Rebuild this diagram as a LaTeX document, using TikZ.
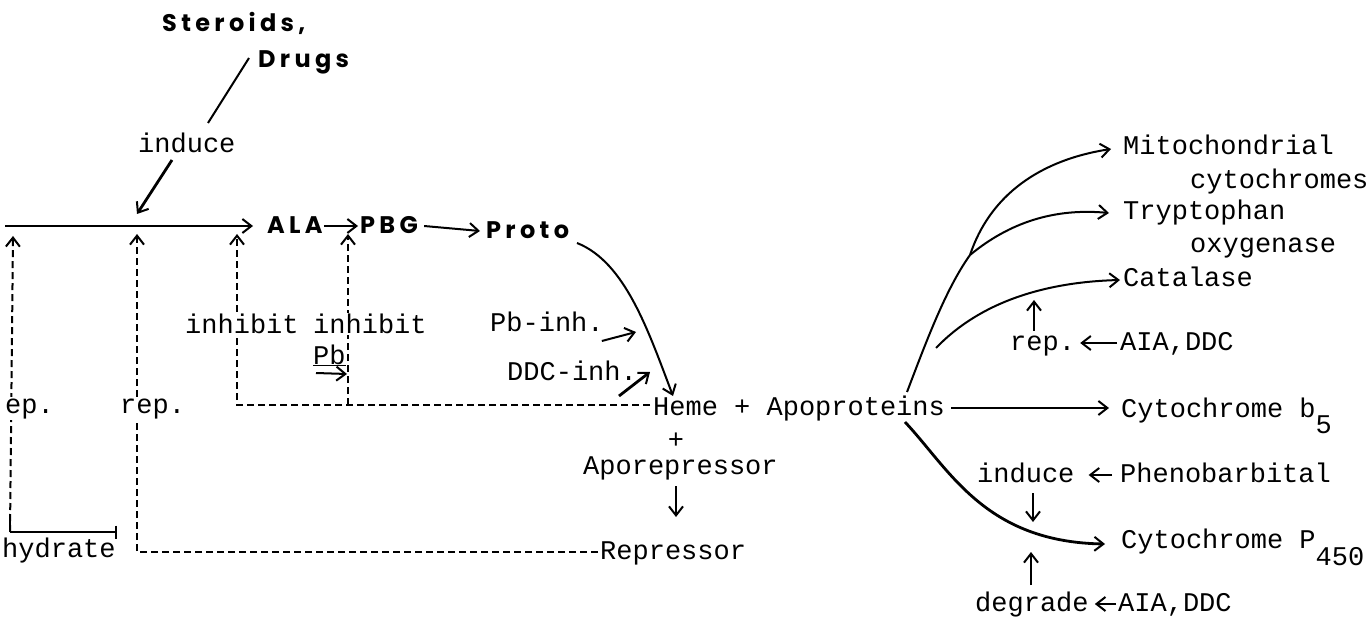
\documentclass[tikz,border=0pt]{standalone}
\usepackage{fontspec}
\usetikzlibrary{arrows.meta}
\newfontfamily\tw{Liberation Mono}
\newfontfamily\bsf[LetterSpace=18]{Poppins}
\begin{document}
\begin{tikzpicture}[x=1pt,y=-1pt,
  tt/.style={anchor=base west,inner sep=0pt,font=\tw\fontsize{27}{30}\selectfont},
  bs/.style={anchor=base west,inner sep=0pt,font=\bsf\bfseries\fontsize{24}{28}\selectfont},
  lbl/.style={tt,fill=white,inner sep=1pt},
  ln/.style={line width=2pt},
  thick ln/.style={line width=2.8pt},
  dsh/.style={line width=2pt,dash pattern=on 7pt off 4pt},
  arr/.style={-{Straight Barb[length=9pt,width=14pt,line width=2pt]}},
  tee/.style={-{Bar[width=13pt,line width=2.4pt]}}]
\useasboundingbox (0,0) rectangle (1371,620);

\coordinate (start) at (5,226);
\coordinate (ind) at (137,226);
\coordinate (tB) at (137,234);
\coordinate (tC) at (237,234);
\coordinate (tD) at (348,234);
\coordinate (cL) at (10,532);
\coordinate (cM) at (137,552);
\coordinate (cC) at (237,405);
\coordinate (cD) at (348,405);
\coordinate (hemeL) at (650,405);
\coordinate (repL) at (598,552);

% bold sans
\node[bs] (steroids) at (162,32) {Steroids,};
\node[bs] (drugs) at (258,68) {Drugs};
\node[bs] (ALA) at (267,234) {ALA};
\node[bs] (PBG) at (360,234) {PBG};
\node[bs] (Proto) at (486,239) {Proto};

% typewriter
\node[tt] (induceA) at (138,153) {induce};
\node[tt] (Heme) at (653,415) {Heme + Apoproteins};
\node[tt,anchor=center] (plus) at (676,441) {+};
\node[tt] (Apo) at (583,474) {Aporepressor};
\node[tt] (Repressor) at (600,559) {Repressor};
\node[tt] (PbInh) at (490,332) {Pb-inh.};
\node[tt] (DDCInh) at (507,380) {DDC-inh.};

\node[tt] (Mito) at (1123,155) {Mitochondrial};
\node[tt] (cyts) at (1190,189) {cytochromes};
\node[tt] (Tryp) at (1123,220) {Tryptophan};
\node[tt] (oxy) at (1190,253) {oxygenase};
\node[tt] (Cat) at (1123,287) {Catalase};
\node[tt] (repR) at (1010,350) {rep.};
\node[tt] (AIAa) at (1120,350) {AIA,DDC};
\node[tt] (Cb) at (1121,417) {Cytochrome b\raisebox{-16pt}{5}};
\node[tt] (induceB) at (977,482) {induce};
\node[tt] (Pheno) at (1120,482) {Phenobarbital};
\node[tt] (CP) at (1121,548) {Cytochrome P\raisebox{-17pt}{450}};
\node[tt] (degrade) at (975,611) {degrade};
\node[tt] (AIAb) at (1118,611) {AIA,DDC};

% main pathway
\draw[thick ln,arr] (start) -- ([xshift=-14pt]ALA.west |- start);
\draw[ln,arr] ([xshift=1pt,yshift=8pt]ALA.base east) -- ([xshift=-2pt,yshift=8pt]PBG.base west);
\draw[ln,arr] ([xshift=6pt,yshift=8pt]PBG.base east) -- ([xshift=-6pt,yshift=8pt]Proto.base west);
\coordinate (protoOut) at (577,243);
\coordinate (hemeIn) at (673,396);
\draw[ln,arr] (protoOut) .. controls (625,262) and (648,330) .. (hemeIn);

% induce from steroids
\coordinate (drugsL) at (249,58);
\coordinate (ind1) at (208,123);
\draw[ln] (drugsL) -- (ind1);
\draw[thick ln,arr] ([xshift=34pt,yshift=-7pt]induceA.base west) -- ([yshift=12pt]ind);

% feedback lines
\draw[dsh,arr] (cL) -- (13,236);
\draw[ln,tee] (cL) -- (117,532);
\draw[ln] (cL) -- (10,515);
\draw[dsh,arr] (repL) -- (cM) -- (tB);
\draw[dsh,arr] (hemeL) -- (cC) -- (tC);
\draw[dsh,arr] (cD) -- (tD);

% labels on lines
\node[lbl] (inhA) at (184,334) {inhibit};
\node[lbl] (inhB) at (312,334) {inhibit};
\node[tt] (Pb) at (313,364) {\underline{Pb}};
\coordinate (pbT) at (347,374);
\draw[ln,arr] ([xshift=3pt,yshift=-9pt]Pb.base west) -- (pbT);
\node[lbl] (repA) at (4,413) {ep.};
\node[lbl] (repB) at (119,413) {rep.};
\node[tt] (hyd) at (2,557) {hydrate};

% inhibitors of ferrochelatase
\coordinate (pbTip) at (636,332);
\coordinate (ddcTip) at (650,372);
\draw[ln,arr] ([xshift=-2pt,yshift=-9pt]PbInh.base east) -- (pbTip);
\draw[thick ln,arr] ([xshift=112pt,yshift=-16pt]DDCInh.base west) -- (ddcTip);

% Heme + Apo -> Repressor
\coordinate (apoD1) at (676,486);
\coordinate (apoD2) at (676,517);
\draw[thick ln,arr] (apoD1) -- (apoD2);

% right branches
\coordinate (tr0) at (907,392);
\coordinate (tr1) at (970,255);
\coordinate (trc) at (936,348);
\draw[ln] (tr0) .. controls (925,345) and (945,290) .. (tr1);
\draw[ln,arr] (tr1) .. controls (990,195) and (1040,160) .. ([xshift=-12pt,yshift=6pt]Mito.base west);
\draw[ln,arr] (tr1) .. controls (1010,222) and (1055,208) .. ([xshift=-14pt,yshift=7pt]Tryp.base west);
\draw[ln,arr] (trc) .. controls (980,302) and (1045,282) .. ([xshift=-3pt,yshift=7pt]Cat.base west);
\coordinate (b5s) at (951,408);
\draw[ln,arr] (b5s) -- ([xshift=-12pt]Cb.base west |- b5s);
\coordinate (p0) at (905,422);
\draw[thick ln,arr] (p0) .. controls (950,470) and (985,542) .. ([xshift=-16pt,yshift=4pt]CP.base west);

% regulators
\draw[ln,arr] ([xshift=24pt,yshift=19pt]repR.base west) -- ++(0,-31);
\draw[ln,arr] ([xshift=-3pt,yshift=7pt]AIAa.base west) -- ([xshift=5pt,yshift=7pt]repR.base east);
\draw[ln,arr] ([xshift=-8pt,yshift=7pt]Pheno.base west) -- ([xshift=14pt,yshift=7pt]induceB.base east);
\draw[thick ln,arr] ([xshift=56pt,yshift=-11pt]induceB.base west) -- ++(0,29);
\draw[thick ln,arr] ([xshift=56pt,yshift=26pt]degrade.base west) -- ++(0,-33);
\draw[ln,arr] ([xshift=-2pt,yshift=7pt]AIAb.base west) -- ([xshift=6pt,yshift=7pt]degrade.base east);
\end{tikzpicture}
\end{document}
